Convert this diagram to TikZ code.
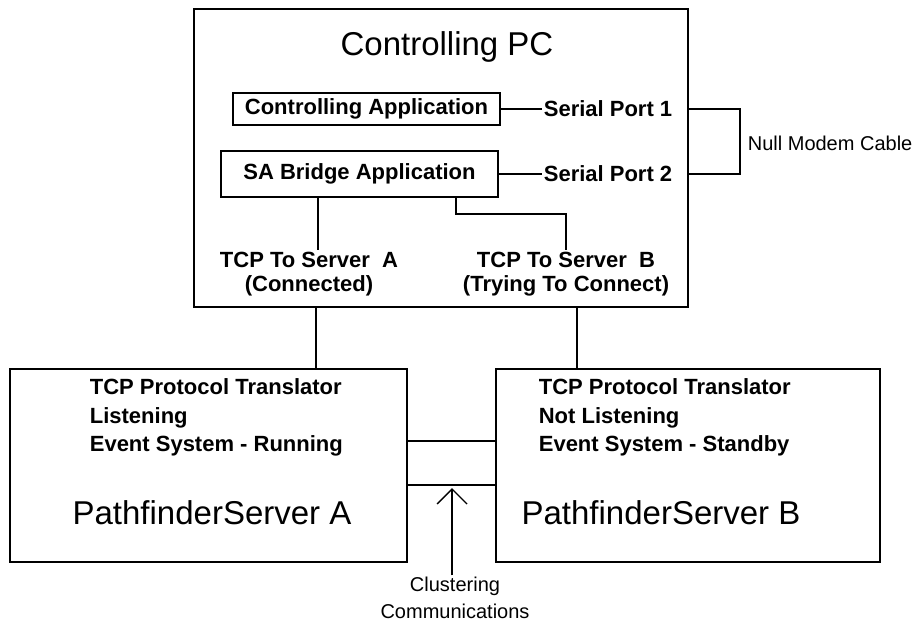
\documentclass[tikz,border=0pt]{standalone}
\usepackage{fontspec}
\setmainfont{Liberation Sans}
\usetikzlibrary{arrows.meta}
\begin{document}
\begin{tikzpicture}[x=1pt,y=-1pt, line width=1.7pt,
  box/.style={draw, rectangle, inner sep=0pt},
  lbl/.style={font=\fontsize{22}{24.5}\selectfont\bfseries, inner sep=1pt},
  srvtxt/.style={font=\fontsize{22}{28.5}\selectfont\bfseries, inner sep=0pt, align=left},
  big/.style={font=\fontsize{33}{36}\selectfont, inner sep=0pt},
  small/.style={font=\fontsize{20}{27}\selectfont, inner sep=0pt, align=center},
  conn/.style={draw, line width=1.7pt}]
\useasboundingbox[fill=white] (0,0) rectangle (917,622);

% Controlling PC
\node[box, minimum width=494pt, minimum height=298pt] (pc) at (441,158) {};
\node[big] (pctitle) at (447,47) {Controlling PC};
\node[box, lbl, minimum width=267pt, minimum height=32pt] (ca) at (366.5,109) {Controlling Application};
\node[box, lbl, minimum width=277pt, minimum height=46pt] (sa) at (359.5,174) {SA Bridge Application};
\node[lbl, anchor=west] (sp1) at (542,109) {Serial Port 1};
\node[lbl, anchor=west] (sp2) at (542,174) {Serial Port 2};
\node[lbl, align=center] (tcpa) at (309,274) {TCP To Server\ \ A\\(Connected)};
\node[lbl, align=center] (tcpb) at (566,274) {TCP To Server\ \ B\\(Trying To Connect)};
\node[small, anchor=west] (nmc) at (747,143) {Null Modem Cable};

% Servers
\node[box, minimum width=397pt, minimum height=193pt] (srva) at (208.5,465.5) {};
\node[box, minimum width=384pt, minimum height=193pt] (srvb) at (688,465.5) {};
\node[srvtxt, anchor=west] (sta) at (89,417.5) {TCP Protocol Translator\\Listening\\Event System - Running};
\node[srvtxt, anchor=west] (stb) at (538,417.5) {TCP Protocol Translator\\Not Listening\\Event System - Standby};
\node[big] (pfa) at (212,513) {PathfinderServer A};
\node[big] (pfb) at (661,513) {PathfinderServer B};
\node[small] (clus) at (455,598) {Clustering\\Communications};

% connectors
\draw[conn] (ca.east) -- (sp1.west);
\draw[conn] (sa.east) -- (sp2.west);
\draw[conn] (pc.east |- sp1.west) -- ++(51,0) |- (pc.east |- sp2.west);
\draw[conn] ([xshift=98pt]sa.south west) -- ([xshift=98pt]sa.south west |- tcpa.north);
\draw[conn] ([xshift=236pt]sa.south west) -- ++(0,16) -| (tcpb.north);
\draw[conn] ([xshift=123pt]pc.south west) -- ([xshift=123pt]pc.south west |- srva.north);
\draw[conn] ([xshift=384pt]pc.south west) -- ([xshift=384pt]pc.south west |- srvb.north);
\draw[conn] ([yshift=-73pt]srva.north east) -- ([yshift=-73pt]srva.north east -| srvb.west);
\draw[conn] ([yshift=-117pt]srva.north east) -- ([yshift=-117pt]srva.north east -| srvb.west);
\coordinate (tip) at (452,488);
\draw[line width=1.4pt, -{Straight Barb[length=15pt,width=30pt,line width=1.4pt]}] (clus.north -| tip) ++(0,-1) -- (tip);
\end{tikzpicture}
\end{document}
